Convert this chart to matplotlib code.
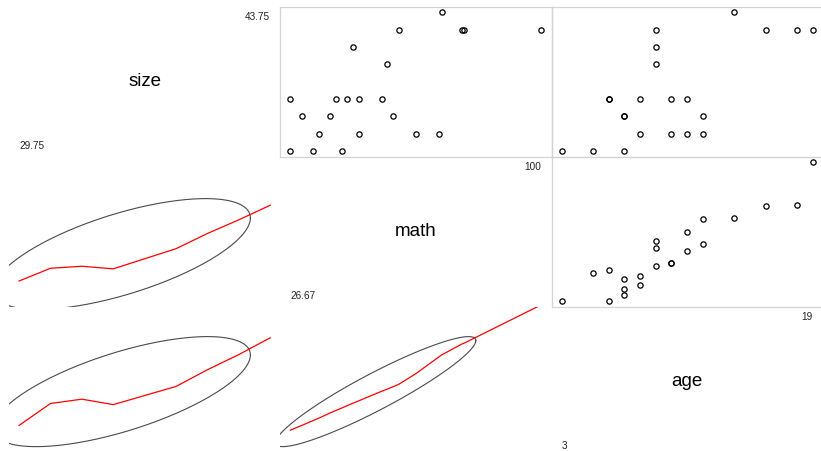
import numpy as np
import matplotlib
matplotlib.use("Agg")
import matplotlib.pyplot as plt

plt.rcParams['font.family'] = ['Liberation Sans', 'DejaVu Sans']

# Observations
size = [29.75, 29.75, 35.0, 35.0, 33.25, 33.25, 29.75, 35.0, 31.5, 42.0, 40.25,
        38.5, 35.0, 31.5, 35.0, 31.5, 33.25, 31.5, 43.75, 42.0, 42.0, 42.0]
math = [26.67, 41.67, 26.67, 43.33, 30.0, 38.33, 33.33, 40.0, 35.0, 58.33, 45.0,
        55.0, 46.67, 46.67, 53.33, 63.33, 56.67, 70.0, 70.83, 76.67, 77.5, 100.0]
age = [3, 5, 6, 6, 7, 7, 7, 8, 8, 9, 9,
       9, 10, 10, 11, 11, 12, 12, 14, 16, 18, 19]

var_names = ["size", "math", "age"]
data = [np.asarray(size, float), np.asarray(math, float), np.asarray(age, float)]
range_labels = [("29.75", "43.75"), ("26.67", "100"), ("3", "19")]


def lowess(x, y, f=2/3, n_iter=3):
    """Robust locally weighted regression (Cleveland's LOWESS)."""
    order = np.argsort(x, kind="stable")
    x = np.asarray(x, float)[order]
    y = np.asarray(y, float)[order]
    n = len(x)
    ns = max(min(int(f * n + 1e-7), n), 2)
    rng = x[-1] - x[0]
    rw = np.ones(n)
    ys = np.zeros(n)
    for it in range(n_iter + 1):
        nleft, nright = 0, ns - 1
        for i in range(n):
            xs = x[i]
            while nright < n - 1:
                d1 = xs - x[nleft]
                d2 = x[nright + 1] - xs
                if d1 <= d2:
                    break
                nleft += 1
                nright += 1
            h = max(xs - x[nleft], x[nright] - xs)
            h9, h1 = 0.999 * h, 0.001 * h
            w = np.zeros(n)
            j = nleft
            while j < n:
                r = abs(x[j] - xs)
                if r <= h9:
                    if r <= h1:
                        w[j] = 1.0
                    else:
                        w[j] = (1 - (r / h) ** 3) ** 3
                    w[j] *= rw[j]
                elif x[j] > xs:
                    break
                j += 1
            a = w.sum()
            if a <= 0:
                ys[i] = y[i]
                continue
            w = w / a
            if h > 0:
                a = np.sum(w * x)
                b = xs - a
                c = np.sum(w * (x - a) ** 2)
                if np.sqrt(c) > 0.001 * rng:
                    b /= c
                    w = w * (b * (x - a) + 1.0)
            ys[i] = np.sum(w * y)
        if it == n_iter:
            break
        res = y - ys
        ares = np.abs(res)
        cmad = 6 * np.median(ares)
        if cmad < 1e-7 * np.mean(ares):
            break
        c9, c1 = 0.999 * cmad, 0.001 * cmad
        rw = np.where(ares <= c1, 1.0,
                      np.where(ares <= c9, (1 - (ares / cmad) ** 2) ** 2, 0.0))
    return x, ys


def data_ellipse(x, y, level=0.68, npts=240):
    n = len(x)
    center = np.array([x.mean(), y.mean()])
    cov = np.cov(x, y)
    nu = n - 1
    fq = nu / 2 * ((1 - level) ** (-2 / nu) - 1)   # F(2, n-1) quantile
    radius = np.sqrt(2 * fq)
    t = np.linspace(0, 2 * np.pi, npts)
    circle = np.column_stack([np.cos(t), np.sin(t)])
    chol = np.linalg.cholesky(cov)
    pts = center + radius * circle @ chol.T
    return pts[:, 0], pts[:, 1]


def limits(v):
    lo, hi = v.min(), v.max()
    pad = 0.04 * (hi - lo)
    return lo - pad, hi + pad


W, H = 821, 451
fig = plt.figure(figsize=(W / 100, H / 100), dpi=100)
fig.patch.set_facecolor("white")

col_left = 9.0
col_w = 271.25
row_top = 6.75
row_h = 150.0

for i in range(3):
    for j in range(3):
        x0 = col_left + j * col_w
        y0 = row_top + i * row_h
        ax = fig.add_axes([x0 / W, 1 - (y0 + row_h) / H, col_w / W, row_h / H])
        xv, yv = data[j], data[i]
        ax.set_xlim(*limits(xv))
        ax.set_ylim(*limits(yv))
        ax.set_xticks([])
        ax.set_yticks([])
        ax.patch.set_alpha(0)
        if i == j:
            for s in ax.spines.values():
                s.set_visible(False)
            ax.text(0.5, 0.5, var_names[i], transform=ax.transAxes,
                    ha="center", va="center", fontsize=13.5, color="black")
            lo_lbl, hi_lbl = range_labels[i]
            ax.text(xv.min(), yv.min(), lo_lbl, ha="left", va="bottom",
                    fontsize=7.2, color="#222222")
            ax.text(xv.max(), yv.max(), hi_lbl, ha="right", va="top",
                    fontsize=7.2, color="#222222")
        elif i < j:
            for s in ax.spines.values():
                s.set_color("#d4d4d4")
                s.set_linewidth(0.9)
            ax.plot(xv, yv, linestyle="none", marker="o", markersize=3.8,
                    markerfacecolor="none", markeredgecolor="black",
                    markeredgewidth=0.9)
        else:
            for s in ax.spines.values():
                s.set_visible(False)
            ex, ey = data_ellipse(xv, yv)
            ax.plot(ex, ey, color="#4a4a4a", linewidth=0.8)
            lx, ly = lowess(xv, yv)
            ax.plot(lx, ly, color="red", linewidth=0.9)

fig.savefig("out.png", dpi=100, facecolor="white")
